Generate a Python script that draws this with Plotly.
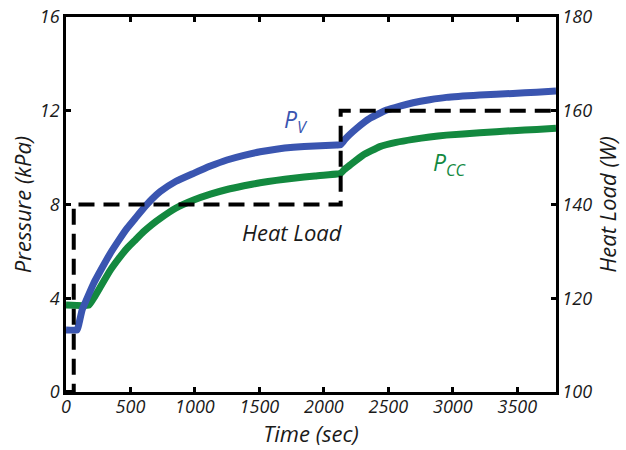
import plotly.graph_objects as go

# Data
t_pv = [0, 86, 100, 125, 160, 215, 280, 344, 410, 473, 540, 602, 665, 731, 850, 990, 1120, 1248, 1380,
        1505, 1630, 1763, 1930, 2099, 2128, 2145, 2163, 2254, 2357, 2486, 2590, 2692, 2820, 2950, 3208,
        3466, 3650, 3800]
p_v = [2.65, 2.65, 2.9, 3.5, 3.95, 4.64, 5.3, 5.92, 6.48, 6.98, 7.43, 7.84, 8.22, 8.55, 8.98, 9.33, 9.64, 9.9,
       10.1, 10.25, 10.36, 10.44, 10.5, 10.54, 10.55, 10.65, 10.78, 11.25, 11.68, 12.03, 12.2, 12.34, 12.47,
       12.57, 12.67, 12.74, 12.79, 12.84]

t_pcc = [0, 177, 220, 267, 344, 410, 473, 540, 602, 665, 731, 850, 990, 1120, 1248, 1380, 1505, 1630,
         1763, 1930, 2099, 2130, 2160, 2202, 2305, 2434, 2560, 2692, 2820, 2950, 3208, 3466, 3650, 3800]
p_cc = [3.71, 3.71, 4.05, 4.49, 5.2, 5.7, 6.13, 6.5, 6.84, 7.14, 7.41, 7.84, 8.19, 8.44, 8.64, 8.8, 8.93,
        9.03, 9.12, 9.22, 9.3, 9.33, 9.5, 9.68, 10.11, 10.47, 10.65, 10.78, 10.88, 10.96, 11.06, 11.15,
        11.2, 11.25]

t_heat = [0, 60, 60, 2130, 2130, 3800]
heat_load = [100, 100, 140, 140, 160, 160]

x_ticks = [0, 500, 1000, 1500, 2000, 2500, 3000, 3500]
y_ticks = [0, 4, 8, 12, 16]
y2_ticks = [100, 120, 140, 160, 180]

BLUE = "#3a55b0"
GREEN = "#13893f"
INK = "#1a1a1a"
FONT = "Open Sans"

fig = go.Figure()
fig.add_trace(go.Scatter(x=t_heat, y=heat_load, yaxis="y2", mode="lines",
                         line=dict(color="black", width=4, dash="16px,9px"), showlegend=False))
fig.add_trace(go.Scatter(x=t_pcc, y=p_cc, mode="lines",
                         line=dict(color=GREEN, width=7, shape="spline", smoothing=0.4), showlegend=False))
fig.add_trace(go.Scatter(x=t_pv, y=p_v, mode="lines",
                         line=dict(color=BLUE, width=7, shape="spline", smoothing=0.4), showlegend=False))

tickfont = dict(family=FONT, size=18, color=INK, style="italic")
titlefont = dict(family=FONT, size=22, color=INK, style="italic")

fig.update_layout(
    width=626, height=450,
    margin=dict(l=66, r=70, t=17, b=58),
    paper_bgcolor="white", plot_bgcolor="white",
    xaxis=dict(range=[0, 3800], tickvals=x_ticks, ticks="inside", ticklen=5, tickwidth=2.5,
               tickcolor="black", showline=True, linecolor="black", linewidth=2.5, mirror="ticks",
               showgrid=False, zeroline=False, tickfont=tickfont, automargin=False,
               ticklabelstandoff=-3,
               title=dict(text="Time (sec)", font=titlefont, standoff=0)),
    yaxis=dict(range=[0, 16], tickvals=y_ticks, ticks="inside", ticklen=5, tickwidth=2.5,
               tickcolor="black", showline=True, linecolor="black", linewidth=2.5, mirror=True,
               showgrid=False, zeroline=False, tickfont=tickfont, automargin=False,
               ticklabeloverflow="allow",
               title=dict(text="Pressure (kPa)", font=titlefont, standoff=3)),
    yaxis2=dict(range=[100, 180], tickvals=y2_ticks, overlaying="y", side="right", ticks="inside",
                ticklen=5, tickwidth=2.5, tickcolor="black", showline=True, linecolor="black",
                linewidth=2.5, showgrid=False, zeroline=False, tickfont=tickfont, automargin=False,
                ticklabeloverflow="allow",
                title=dict(text="Heat Load (W)", font=titlefont, standoff=1)),
    annotations=[
        dict(x=1784, y=11.6, xref="x", yref="y", text="P<sub>V</sub>", showarrow=False,
             font=dict(family=FONT, size=23, color=BLUE, style="italic")),
        dict(x=2976, y=9.77, xref="x", yref="y", text="P<sub>CC</sub>", showarrow=False,
             font=dict(family=FONT, size=23, color=GREEN, style="italic")),
        dict(x=1760, y=6.83, xref="x", yref="y", text="Heat Load", showarrow=False,
             font=dict(family=FONT, size=22, color=INK, style="italic")),
    ],
)

# remove the browser's default 8px body margin so the figure sits at the page origin
fig.write_html("out.html", config={"displayModeBar": False},
               post_script="document.body.style.margin='0px';")
